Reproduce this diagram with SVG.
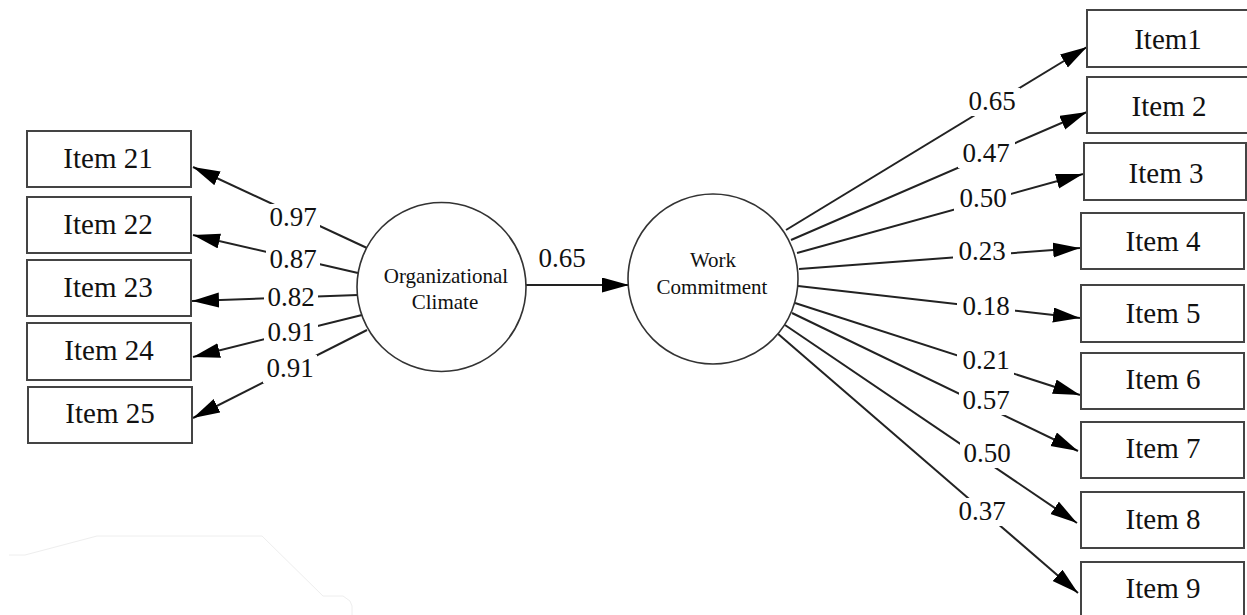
<svg xmlns="http://www.w3.org/2000/svg" width="1247" height="615" viewBox="0 0 1247 615">
<style>
.box{fill:#fff;stroke:#444;stroke-width:2}
.circ{fill:#fff;stroke:#333;stroke-width:1.6}
.item{font-family:"Liberation Serif","Times New Roman",serif;font-size:29px;fill:#111;text-anchor:middle}
.lat{font-family:"Liberation Serif","Times New Roman",serif;font-size:21px;fill:#111;text-anchor:middle}
.lbl{font-family:"Liberation Serif","Times New Roman",serif;font-size:27px;fill:#111;text-anchor:middle}
.edge{stroke:#222;stroke-width:2;fill:none;marker-end:url(#ah)}
.bg{fill:#fff}
</style>
<defs>
<marker id="ah" markerUnits="userSpaceOnUse" markerWidth="28" markerHeight="16" refX="27" refY="7.5" orient="auto">
<path d="M0,0 L27,7.5 L0,15 Z" fill="#000"/>
</marker>
</defs>
<rect width="1247" height="615" fill="#fff"/>
<polyline points="9,555 25,555 97,536 262,536 323,596 343,596 350,601 352,606 352,615" fill="none" stroke="#eeeeee" stroke-width="1"/>
<g id="connectors">
<line class="edge" x1="367" y1="248" x2="193" y2="167"/>
<line class="edge" x1="358" y1="273" x2="193" y2="235"/>
<line class="edge" x1="358" y1="295" x2="192" y2="301"/>
<line class="edge" x1="362" y1="315" x2="193" y2="357"/>
<line class="edge" x1="367" y1="330" x2="193" y2="418"/>
<line class="edge" x1="526" y1="285" x2="629" y2="285"/>
<line class="edge" x1="786" y1="230" x2="1087" y2="47"/>
<line class="edge" x1="791" y1="240" x2="1087" y2="112"/>
<line class="edge" x1="797" y1="253" x2="1083" y2="174"/>
<line class="edge" x1="799" y1="269" x2="1080" y2="248"/>
<line class="edge" x1="798" y1="286" x2="1080" y2="318"/>
<line class="edge" x1="795" y1="303" x2="1080" y2="395"/>
<line class="edge" x1="792" y1="313" x2="1078" y2="451"/>
<line class="edge" x1="785" y1="325" x2="1077" y2="523"/>
<line class="edge" x1="777" y1="333" x2="1078" y2="593"/>
</g>
<g id="edge-labels">
<rect class="bg" x="266" y="204" width="54" height="28"/><text class="lbl" x="293" y="226">0.97</text>
<rect class="bg" x="266" y="246" width="54" height="28"/><text class="lbl" x="293" y="268">0.87</text>
<rect class="bg" x="264" y="284" width="54" height="28"/><text class="lbl" x="291" y="306">0.82</text>
<rect class="bg" x="264" y="319" width="54" height="28"/><text class="lbl" x="291" y="341">0.91</text>
<rect class="bg" x="263" y="355" width="54" height="28"/><text class="lbl" x="290" y="377">0.91</text>
<text class="lbl" x="562" y="267">0.65</text>
<rect class="bg" x="963" y="88" width="57" height="28"/><text class="lbl" x="992" y="110">0.65</text>
<rect class="bg" x="958" y="140" width="57" height="28"/><text class="lbl" x="986" y="162">0.47</text>
<rect class="bg" x="954" y="185" width="57" height="28"/><text class="lbl" x="983" y="207">0.50</text>
<rect class="bg" x="953" y="238" width="58" height="28"/><text class="lbl" x="982" y="260">0.23</text>
<rect class="bg" x="957" y="293" width="58" height="28"/><text class="lbl" x="986" y="315">0.18</text>
<rect class="bg" x="957" y="347" width="57" height="28"/><text class="lbl" x="986" y="369">0.21</text>
<rect class="bg" x="959" y="387" width="55" height="28"/><text class="lbl" x="986" y="409">0.57</text>
<rect class="bg" x="960" y="440" width="54" height="28"/><text class="lbl" x="987" y="462">0.50</text>
<rect class="bg" x="960" y="498" width="42" height="28"/><text class="lbl" x="982" y="520">0.37</text>
</g>
<g id="item21"><rect class="box" x="27" y="131" width="164" height="56"/><text class="item" x="108" y="168">Item 21</text></g>
<g id="item22"><rect class="box" x="27" y="197" width="164" height="56"/><text class="item" x="108" y="234">Item 22</text></g>
<g id="item23"><rect class="box" x="27" y="260" width="164" height="56"/><text class="item" x="108" y="297">Item 23</text></g>
<g id="item24"><rect class="box" x="27" y="323" width="164" height="57"/><text class="item" x="109" y="360">Item 24</text></g>
<g id="item25"><rect class="box" x="28" y="387" width="164" height="56"/><text class="item" x="110" y="423">Item 25</text></g>
<g id="org-climate"><circle class="circ" cx="441.5" cy="287" r="84.5"/><text class="lat" x="446" y="283">Organizational</text><text class="lat" x="445" y="309">Climate</text></g>
<g id="work-commitment"><circle class="circ" cx="713" cy="279" r="85"/><text class="lat" x="713" y="267">Work</text><text class="lat" x="712" y="294">Commitment</text></g>
<g id="item1"><rect class="box" x="1087" y="10" width="163" height="57"/><text class="item" x="1168" y="49">Item1</text></g>
<g id="item2"><rect class="box" x="1087" y="77" width="163" height="56"/><text class="item" x="1169" y="116">Item 2</text></g>
<g id="item3"><rect class="box" x="1084" y="143" width="162" height="57"/><text class="item" x="1166" y="183">Item 3</text></g>
<g id="item4"><rect class="box" x="1081" y="213" width="163" height="56"/><text class="item" x="1163" y="251">Item 4</text></g>
<g id="item5"><rect class="box" x="1081" y="285" width="163" height="57"/><text class="item" x="1163" y="323">Item 5</text></g>
<g id="item6"><rect class="box" x="1081" y="353" width="163" height="56"/><text class="item" x="1163" y="389">Item 6</text></g>
<g id="item7"><rect class="box" x="1081" y="422" width="163" height="56"/><text class="item" x="1163" y="458">Item 7</text></g>
<g id="item8"><rect class="box" x="1081" y="492" width="163" height="56"/><text class="item" x="1163" y="529">Item 8</text></g>
<g id="item9"><rect class="box" x="1081" y="562" width="163" height="57"/><text class="item" x="1163" y="598">Item 9</text></g>
</svg>
